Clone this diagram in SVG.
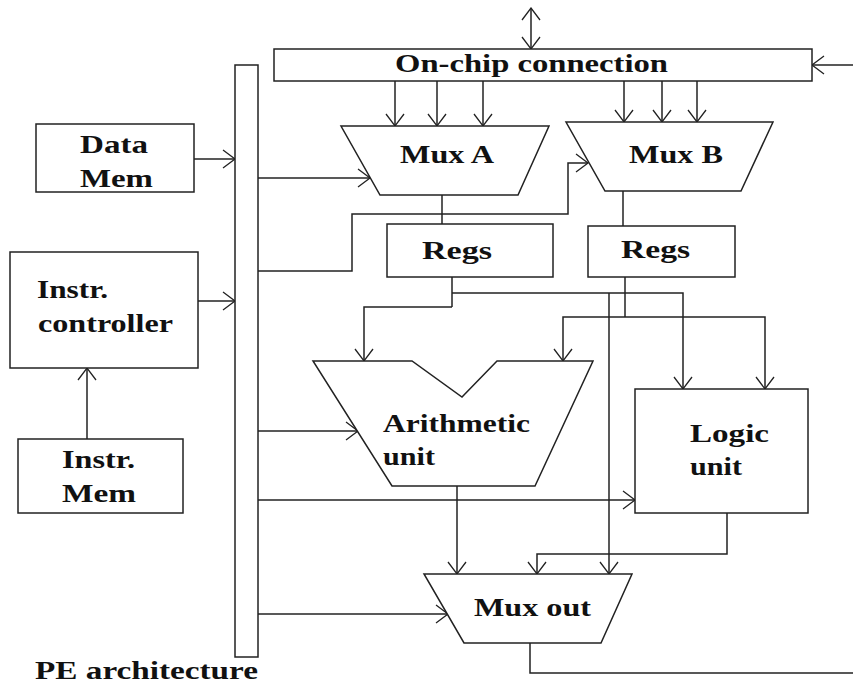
<svg xmlns="http://www.w3.org/2000/svg" width="853" height="685" viewBox="0 0 853 685">
<defs>
<style>
.n{fill:#fff;stroke:#222;stroke-width:1.5}
.c{fill:none;stroke:#222;stroke-width:1.5}
.a{marker-end:url(#ah)}
.t{font-family:"Liberation Serif","Times New Roman",serif;font-weight:bold;font-size:26px;fill:#111}
</style>
<marker id="ah" markerUnits="userSpaceOnUse" markerWidth="16" markerHeight="22" refX="13" refY="10" orient="auto">
<path d="M1,1 L13,10 L1,19" fill="none" stroke="#222" stroke-width="1.3"/>
</marker>
<marker id="as" markerUnits="userSpaceOnUse" markerWidth="16" markerHeight="22" refX="1" refY="10" orient="auto">
<path d="M13,1 L1,10 L13,19" fill="none" stroke="#222" stroke-width="1.3"/>
</marker>
</defs>
<rect width="853" height="685" fill="#fff"/>
<g id="connectors">
<path class="c" d="M531,8 L531,49" marker-start="url(#as)" marker-end="url(#ah)"/>
<path class="c a" d="M853,65 L812,65"/>
<path class="c a" d="M395,81 L395,126"/>
<path class="c a" d="M437,81 L437,126"/>
<path class="c a" d="M483,81 L483,126"/>
<path class="c a" d="M624,81 L624,122"/>
<path class="c a" d="M662,81 L662,122"/>
<path class="c a" d="M697,81 L697,122"/>
<path class="c a" d="M194,159 L235,159"/>
<path class="c a" d="M198,301 L235,301"/>
<path class="c a" d="M87,439 L87,368"/>
<path class="c a" d="M258,178 L370,178"/>
<path class="c a" d="M258,271 L352,271 L352,214 L568,214 L568,163 L588,163"/>
<path class="c" d="M442,195 L442,224"/>
<path class="c" d="M623,191 L623,226"/>
<path class="c" d="M452,277 L452,307"/>
<path class="c a" d="M452,293 L683,293 L683,389"/>
<path class="c a" d="M452,307 L364,307 L364,361"/>
<path class="c" d="M625,277 L625,317"/>
<path class="c a" d="M625,317 L563,317 L563,361"/>
<path class="c a" d="M625,317 L765,317 L765,389"/>
<path class="c a" d="M609,293 L609,574"/>
<path class="c a" d="M258,431 L358,431"/>
<path class="c a" d="M258,500 L635,500"/>
<path class="c a" d="M258,614 L448,614"/>
<path class="c a" d="M457,486 L457,574"/>
<path class="c a" d="M727,513 L727,554 L537,554 L537,574"/>
<path class="c" d="M530,643 L530,673 L853,673"/>
</g>
<g id="onchip">
<rect class="n" x="274" y="49" width="538" height="32"/>
<text class="t" x="395" y="72" textLength="273" lengthAdjust="spacingAndGlyphs">On-chip connection</text>
</g>
<g id="muxa">
<polygon class="n" points="341,126 549,126 518,195 380,195"/>
<text class="t" x="400" y="163" textLength="94" lengthAdjust="spacingAndGlyphs">Mux A</text>
</g>
<g id="muxb">
<polygon class="n" points="566,122 773,122 741,191 605,191"/>
<text class="t" x="629" y="163" textLength="94" lengthAdjust="spacingAndGlyphs">Mux B</text>
</g>
<g id="bus">
<rect class="n" x="235" y="65" width="23" height="592"/>
</g>
<g id="datamem">
<rect class="n" x="36" y="124" width="158" height="68"/>
<text class="t" x="80" y="153" textLength="68" lengthAdjust="spacingAndGlyphs">Data</text>
<text class="t" x="80" y="187" textLength="73" lengthAdjust="spacingAndGlyphs">Mem</text>
</g>
<g id="instrctrl">
<rect class="n" x="10" y="252" width="188" height="116"/>
<text class="t" x="37" y="298" textLength="71" lengthAdjust="spacingAndGlyphs">Instr.</text>
<text class="t" x="38" y="332" textLength="135" lengthAdjust="spacingAndGlyphs">controller</text>
</g>
<g id="instrmem">
<rect class="n" x="18" y="439" width="165" height="74"/>
<text class="t" x="62" y="468" textLength="73" lengthAdjust="spacingAndGlyphs">Instr.</text>
<text class="t" x="62" y="502" textLength="74" lengthAdjust="spacingAndGlyphs">Mem</text>
</g>
<g id="regsa">
<rect class="n" x="387" y="224" width="166" height="53"/>
<text class="t" x="422" y="259" textLength="70" lengthAdjust="spacingAndGlyphs">Regs</text>
</g>
<g id="regsb">
<rect class="n" x="588" y="226" width="147" height="51"/>
<text class="t" x="621" y="258" textLength="69" lengthAdjust="spacingAndGlyphs">Regs</text>
</g>
<g id="arith">
<polygon class="n" points="313,361 412,361 462,397 497,361 593,361 535,486 392,486"/>
<text class="t" x="383" y="432" textLength="147" lengthAdjust="spacingAndGlyphs">Arithmetic</text>
<text class="t" x="383" y="465" textLength="52" lengthAdjust="spacingAndGlyphs">unit</text>
</g>
<g id="logic">
<rect class="n" x="635" y="389" width="173" height="124"/>
<text class="t" x="690" y="442" textLength="79" lengthAdjust="spacingAndGlyphs">Logic</text>
<text class="t" x="690" y="475" textLength="52" lengthAdjust="spacingAndGlyphs">unit</text>
</g>
<g id="muxout">
<polygon class="n" points="424,574 632,574 601,643 464,643"/>
<text class="t" x="474" y="616" textLength="117" lengthAdjust="spacingAndGlyphs">Mux out</text>
</g>
<g id="caption">
<text class="t" x="35" y="679" font-size="25" textLength="223" lengthAdjust="spacingAndGlyphs">PE architecture</text>
</g>
</svg>
